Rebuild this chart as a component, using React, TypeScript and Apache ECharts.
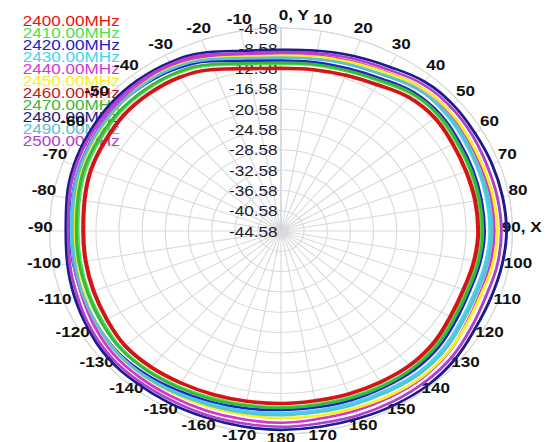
import React, { useEffect, useRef } from "react";
import * as echarts from "echarts";

// Angle (deg, clockwise from top "0, Y")
const ANGLES = [0, 10, 20, 30, 40, 50, 60, 70, 80, 90, 100, 110, 120, 130, 140, 150, 160, 170, 180, 190, 200, 210, 220, 230, 240, 250, 260, 270, 280, 290, 300, 310, 320, 330, 340, 350];

const FREQUENCIES = ["2400.00MHz", "2410.00MHz", "2420.00MHz", "2430.00MHz", "2440.00MHz", "2450.00MHz", "2460.00MHz", "2470.00MHz", "2480.00MHz", "2490.00MHz", "2500.00MHz"];

// Gain in dB
const GAIN_2400 = [-12.6, -12.4, -12.0, -11.4, -10.3, -10.0, -10.4, -10.6, -10.6, -10.6, -10.8, -11.1, -10.9, -10.3, -10.1, -10.3, -10.5, -10.7, -10.7, -10.6, -10.4, -10.1, -9.7, -9.5, -9.9, -10.2, -10.4, -10.5, -10.2, -9.7, -9.5, -9.2, -9.3, -9.7, -10.8, -12.2];
const GAIN_2410 = [-11.6, -11.4, -11.1, -10.5, -9.4, -9.2, -9.6, -9.8, -9.9, -9.9, -10.1, -10.4, -10.2, -9.6, -9.3, -9.5, -9.7, -9.9, -9.9, -9.8, -9.6, -9.2, -8.8, -8.6, -9.0, -9.2, -9.4, -9.5, -9.2, -8.7, -8.5, -8.2, -8.3, -8.7, -9.8, -11.2];
const GAIN_2420 = [-11.0, -10.8, -10.5, -9.9, -8.9, -8.7, -9.1, -9.3, -9.4, -9.4, -9.6, -9.9, -9.6, -9.0, -8.8, -9.0, -9.1, -9.3, -9.3, -9.1, -8.8, -8.4, -7.9, -7.6, -7.8, -8.0, -8.1, -8.1, -7.9, -7.5, -7.4, -7.2, -7.3, -7.8, -9.0, -10.5];
const GAIN_2430 = [-10.2, -10.0, -9.7, -9.1, -8.0, -7.9, -8.2, -8.4, -8.5, -8.5, -8.7, -9.0, -8.8, -8.2, -8.0, -8.3, -8.5, -8.7, -8.7, -8.6, -8.4, -8.0, -7.6, -7.5, -7.8, -8.1, -8.2, -8.3, -8.0, -7.5, -7.2, -6.9, -7.0, -7.4, -8.4, -9.8];
const GAIN_2440 = [-9.6, -9.4, -9.0, -8.4, -7.4, -7.2, -7.5, -7.7, -7.7, -7.7, -7.8, -8.0, -7.7, -7.0, -6.7, -6.8, -6.9, -7.0, -6.8, -6.9, -6.9, -6.9, -6.8, -6.8, -7.3, -7.9, -8.3, -8.6, -8.2, -7.6, -7.2, -6.9, -6.8, -6.9, -8.0, -9.3];
const GAIN_2450 = [-10.0, -9.7, -9.2, -8.5, -7.4, -7.1, -7.3, -7.4, -7.3, -7.2, -7.4, -7.8, -7.6, -7.1, -6.9, -7.1, -7.4, -7.6, -7.7, -7.8, -7.7, -7.6, -7.4, -7.4, -7.8, -8.3, -8.6, -8.9, -8.5, -7.9, -7.6, -7.3, -7.1, -7.3, -8.4, -9.7];
const GAIN_2460 = [-12.4, -12.2, -11.8, -11.2, -10.1, -9.8, -10.2, -10.4, -10.4, -10.4, -10.6, -10.9, -10.7, -10.1, -9.9, -10.1, -10.3, -10.5, -10.5, -10.4, -10.2, -9.9, -9.5, -9.3, -9.7, -10.0, -10.2, -10.3, -10.0, -9.5, -9.3, -9.0, -9.1, -9.5, -10.6, -12.0];
const GAIN_2470 = [-11.4, -11.2, -10.9, -10.3, -9.2, -9.0, -9.4, -9.6, -9.7, -9.7, -9.9, -10.2, -10.0, -9.4, -9.2, -9.3, -9.5, -9.7, -9.7, -9.6, -9.3, -9.0, -8.6, -8.4, -8.7, -9.0, -9.1, -9.2, -8.9, -8.4, -8.2, -8.0, -8.1, -8.5, -9.6, -11.0];
const GAIN_2480 = [-8.9, -8.5, -7.9, -7.2, -6.1, -5.8, -5.9, -5.8, -5.7, -5.6, -5.8, -6.0, -5.9, -5.3, -5.0, -5.1, -5.3, -5.4, -5.4, -5.5, -5.6, -5.6, -5.6, -5.6, -6.1, -6.6, -7.1, -7.4, -7.0, -6.5, -6.2, -5.9, -5.9, -6.2, -7.1, -8.5];
const GAIN_2490 = [-10.4, -10.2, -9.7, -9.1, -8.0, -7.7, -8.0, -8.2, -8.1, -8.1, -8.3, -8.6, -8.4, -7.8, -7.6, -7.9, -8.1, -8.3, -8.3, -8.2, -8.1, -7.8, -7.5, -7.4, -7.8, -8.1, -8.4, -8.5, -8.2, -7.7, -7.4, -7.2, -7.2, -7.5, -8.6, -10.0];
const GAIN_2500 = [-9.3, -9.0, -8.4, -7.8, -6.7, -6.4, -6.5, -6.7, -6.6, -6.5, -6.6, -6.9, -6.6, -6.0, -5.8, -5.8, -5.9, -6.1, -6.0, -6.1, -6.1, -6.2, -6.1, -6.1, -6.5, -7.1, -7.5, -7.8, -7.4, -6.9, -6.6, -6.4, -6.3, -6.6, -7.6, -9.0];

// Radial scale (dB)
const DB_MIN = -44.58;
const DB_MAX = -4.58;
const DB_STEP = 4;

const SERIES_VALUES = [GAIN_2400, GAIN_2410, GAIN_2420, GAIN_2430, GAIN_2440, GAIN_2450, GAIN_2460, GAIN_2470, GAIN_2480, GAIN_2490, GAIN_2500];

const COLORS = ["#ee1010", "#4ce04c", "#2020c8", "#3fd6f0", "#d436d4", "#f8f020", "#c81818", "#38b838", "#1c1c8c", "#5cc0d0", "#b040d0"];

const FONT = 'Arial, "Liberation Sans", sans-serif';
const STRETCH = 1.14;
// angle labels sit a little outside the outer ring (in radius-axis units)
const LABEL_RADIUS = 41.6;
const LABEL_DY = -5;

const angleLabel = (v: number) => {
  if (v === 0) return "0, Y";
  if (v === 90) return "90, X";
  if (v > 180) return String(v - 360);
  return String(v);
};

export default function App() {
  const ref = useRef<HTMLDivElement>(null);

  useEffect(() => {
    const chart = echarts.init(ref.current!, null, { renderer: "svg" });
    const lineSeries = FREQUENCIES.map((name, i) => {
      const vals = SERIES_VALUES[i];
      const pts = ANGLES.map((a, k) => [vals[k] - DB_MIN, a]);
      pts.push([vals[0] - DB_MIN, 360]);
      return {
        name,
        type: "line",
        coordinateSystem: "polar",
        symbol: "none",
        showSymbol: false,
        smooth: 0.4,
        z: 3,
        lineStyle: { width: 2.6, color: COLORS[i] },
        itemStyle: { color: COLORS[i] },
        data: pts,
      };
    });
    chart.setOption({
      animation: false,
      backgroundColor: "#ffffff",
      legend: {
        orient: "vertical",
        left: 10,
        top: 8,
        z: 1,
        icon: "none",
        itemWidth: 0,
        itemHeight: 8,
        itemGap: -3,
        selectedMode: false,
        textStyle: { fontFamily: FONT, fontSize: 15, lineHeight: 15 },
        data: FREQUENCIES.map((name, i) => ({ name, textStyle: { color: COLORS[i] } })),
      },
      polar: { center: [246.5, 231], radius: 203 },
      angleAxis: {
        type: "value",
        min: 0,
        max: 360,
        interval: 10,
        startAngle: 90,
        clockwise: true,
        axisLine: { show: true, lineStyle: { color: "#d9d9d9", width: 1 } },
        axisTick: { show: false },
        splitLine: { show: true, lineStyle: { color: "#d9d9d9", width: 1 } },
        axisLabel: { show: false },
      },
      radiusAxis: {
        type: "value",
        min: 0,
        max: DB_MAX - DB_MIN,
        interval: DB_STEP,
        axisLine: { show: true, lineStyle: { color: "#d0d0d0", width: 1 } },
        axisTick: { show: false },
        splitLine: { show: true, lineStyle: { color: "#d9d9d9", width: 1 } },
        axisLabel: {
          inside: true,
          margin: 3,
          color: "#1a1a2a",
          fontSize: 15,
          fontFamily: FONT,
          formatter: (v: number) => (v + DB_MIN).toFixed(2),
        },
      },
      series: [
        {
          type: "custom",
          coordinateSystem: "polar",
          silent: true,
          z: 1,
          data: ANGLES.map((a) => [LABEL_RADIUS, a]),
          encode: { radius: 0, angle: 1 },
          renderItem: (params: any, api: any) => {
            const angle = api.value(1);
            const p = api.coord([api.value(0), angle]);
            return {
              type: "text",
              x: angle === 0 ? p[0] - 2 : p[0],
              y: p[1] + LABEL_DY,
              style: {
                text: angleLabel(angle),
                align: angle === 0 ? "left" : "center",
                verticalAlign: "middle",
                fill: "#111111",
                font: `bold 15px ${FONT}`,
              },
            };
          },
        },
        ...lineSeries,
      ],
    });
    return () => chart.dispose();
  }, []);

  return (
    <div style={{ position: "fixed", left: 0, top: 0, width: 546, height: 442, background: "#fff", overflow: "hidden" }}>
      <div
        ref={ref}
        style={{ width: 479, height: 442, transform: `scaleX(${STRETCH})`, transformOrigin: "0 0" }}
      />
    </div>
  );
}
